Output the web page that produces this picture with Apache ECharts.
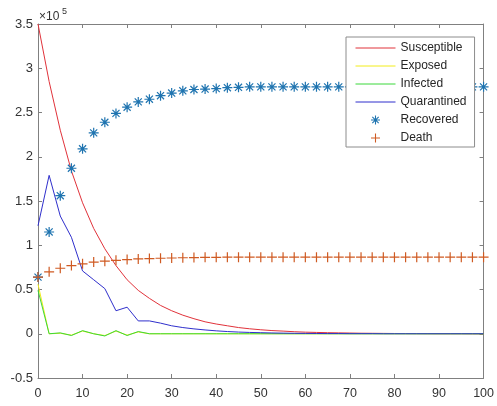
<!DOCTYPE html>
<html>
<head>
<meta charset="utf-8">
<script src="https://cdn.jsdelivr.net/npm/echarts@6/dist/echarts.min.js"></script>
<style>
html,body{margin:0;padding:0;background:#fff;}
#chart{width:497px;height:406px;}
</style>
</head>
<body>
<div id="chart"></div>
<script>
// time axis (days)
var t = [0,2.5,5,7.5,10,12.5,15,17.5,20,22.5,25,27.5,30,32.5,35,37.5,40,42.5,45,47.5,50,52.5,55,57.5,60,62.5,65,67.5,70,72.5,75,77.5,80,82.5,85,87.5,90,92.5,95,97.5,100];
// values in units of 1e5
var susceptible = [3.5,2.85,2.3,1.84,1.48,1.19,0.96,0.77,0.61,0.49,0.40,0.32,0.26,0.21,0.17,0.135,0.11,0.09,0.07,0.056,0.045,0.036,0.03,0.023,0.018,0.015,0.012,0.01,0.008,0.006,0.005,0.004,0.003,0.0025,0.002,0.0015,0.001,0.001,0.001,0,0];
var exposed = [0.56,0.0,0.005,-0.015,0.03,0.0,-0.02,0.03,-0.015,0.02,0.0,0,0,0,0,0,0,0,0,0,0,0,0,0,0,0,0,0,0,0,0,0,0,0,0,0,0,0,0,0,0];
var infected = [0.49,0.0,0.01,-0.02,0.035,0.0,-0.025,0.035,-0.02,0.025,0.0,0,0,0,0,0,0,0,0,0,0,0,0,0,0,0,0,0,0,0,0,0,0,0,0,0,0,0,0,0,0];
var quarantined = [1.22,1.79,1.33,1.09,0.71,0.61,0.51,0.26,0.30,0.145,0.145,0.12,0.09,0.07,0.055,0.043,0.033,0.025,0.019,0.015,0.012,0.009,0.007,0.005,0.004,0.003,0.002,0.002,0.001,0.001,0.001,0,0,0,0,0,0,0,0,0,0];
var recovered = [0.64,1.15,1.56,1.87,2.09,2.27,2.39,2.49,2.56,2.62,2.65,2.69,2.72,2.745,2.76,2.765,2.77,2.78,2.785,2.79,2.79,2.79,2.79,2.79,2.79,2.79,2.79,2.79,2.79,2.79,2.79,2.79,2.79,2.79,2.79,2.79,2.79,2.79,2.79,2.79,2.79];
var death = [0.64,0.70,0.74,0.77,0.79,0.81,0.82,0.83,0.838,0.845,0.85,0.853,0.856,0.859,0.861,0.863,0.864,0.865,0.865,0.865,0.865,0.865,0.865,0.865,0.865,0.865,0.865,0.865,0.865,0.865,0.865,0.865,0.865,0.865,0.865,0.865,0.865,0.865,0.865,0.865,0.865];
var xTicks = [0,10,20,30,40,50,60,70,80,90,100];
var yTicks = [-0.5,0,0.5,1,1.5,2,2.5,3,3.5];
var seriesNames = ['Susceptible','Exposed','Infected','Quarantined','Recovered','Death'];

function pairs(ys){ return t.map(function(x,i){ return [x, ys[i]]; }); }

var FONT = '"Liberation Sans", Arial, Helvetica, sans-serif';
var AX = '#808080';
var LBL = '#333333';
var plusPath = 'path://M-1,-0.12L-0.12,-0.12L-0.12,-1L0.12,-1L0.12,-0.12L1,-0.12L1,0.12L0.12,0.12L0.12,1L-0.12,1L-0.12,0.12L-1,0.12Z';
var starPath = 'path://M-1,-0.12L1,-0.12L1,0.12L-1,0.12ZM-0.12,-1L0.12,-1L0.12,1L-0.12,1ZM-0.622,-0.792L0.792,0.622L0.622,0.792L-0.792,-0.622ZM-0.792,0.622L0.622,-0.792L0.792,-0.622L-0.622,0.792Z';

var chart = echarts.init(document.getElementById('chart'), null, {renderer:'canvas'});
function lineSeries(name, ys, color){
  return {name:name, type:'line', data:pairs(ys), symbol:'none', showSymbol:false,
    lineStyle:{color:color, width:1}, itemStyle:{color:color, opacity:1}, animation:false, z:2};
}
function lineLegend(name){
  return {name:name, itemStyle:{opacity:0, borderWidth:0}};
}
var option = {
  animation:false,
  backgroundColor:'#fff',
  textStyle:{fontFamily:FONT},
  grid:{left:38, right:10, top:24, bottom:28, containLabel:false},
  xAxis:[{
    type:'value', min:xTicks[0], max:xTicks[xTicks.length-1], interval:10, position:'bottom',
    axisLine:{show:true, onZero:false, lineStyle:{color:AX, width:1}},
    axisTick:{show:true, inside:true, length:4, lineStyle:{color:AX}},
    axisLabel:{color:LBL, fontSize:12.5, margin:9, fontFamily:FONT},
    splitLine:{show:false}
  },{
    type:'value', min:xTicks[0], max:xTicks[xTicks.length-1], interval:10, position:'top',
    axisLine:{show:true, onZero:false, lineStyle:{color:AX, width:1}},
    axisTick:{show:true, inside:true, length:4, lineStyle:{color:AX}},
    axisLabel:{show:false}, splitLine:{show:false}
  }],
  yAxis:[{
    type:'value', min:yTicks[0], max:yTicks[yTicks.length-1], interval:0.5, position:'left',
    axisLine:{show:true, onZero:false, lineStyle:{color:AX, width:1}},
    axisTick:{show:true, inside:true, length:4, lineStyle:{color:AX}},
    axisLabel:{color:LBL, fontSize:13, margin:5, fontFamily:FONT},
    splitLine:{show:false}
  },{
    type:'value', min:yTicks[0], max:yTicks[yTicks.length-1], interval:0.5, position:'right',
    axisLine:{show:true, onZero:false, lineStyle:{color:AX, width:1}},
    axisTick:{show:true, inside:true, length:4, lineStyle:{color:AX}},
    axisLabel:{show:false}, splitLine:{show:false}
  }],
  legend:{
    orient:'vertical', left:346, top:37,
    itemWidth:40, itemHeight:9, itemGap:6,
    padding:[5,8,3,9],
    backgroundColor:'#fff', borderColor:'#8c8c8c', borderWidth:1, borderRadius:0,
    textStyle:{color:'#262626', fontSize:12, fontFamily:FONT},
    lineStyle:{width:1},
    data:[
      lineLegend(seriesNames[0]),
      lineLegend(seriesNames[1]),
      lineLegend(seriesNames[2]),
      lineLegend(seriesNames[3]),
      {name:seriesNames[4]},
      {name:seriesNames[5]}
    ]
  },
  graphic:[
    {type:'text', left:39, top:11, style:{text:'\u00d710', font:'12px ' + FONT, fill:LBL}},
    {type:'text', left:62, top:7, style:{text:'5', font:'9px ' + FONT, fill:LBL}}
  ],
  series:[
    lineSeries(seriesNames[0], susceptible, '#e0323a'),
    lineSeries(seriesNames[1], exposed, '#f2ec1a'),
    lineSeries(seriesNames[2], infected, '#3ad83a'),
    lineSeries(seriesNames[3], quarantined, '#2f2fcc'),
    {name:seriesNames[4], type:'scatter', data:pairs(recovered), symbol:starPath, symbolSize:10,
      itemStyle:{color:'#1f74b0', opacity:1}, animation:false, z:3},
    {name:seriesNames[5], type:'scatter', data:pairs(death), symbol:plusPath, symbolSize:10,
      itemStyle:{color:'#cf5a22', opacity:1}, animation:false, z:3}
  ]
};
chart.setOption(option);
</script>
</body>
</html>
